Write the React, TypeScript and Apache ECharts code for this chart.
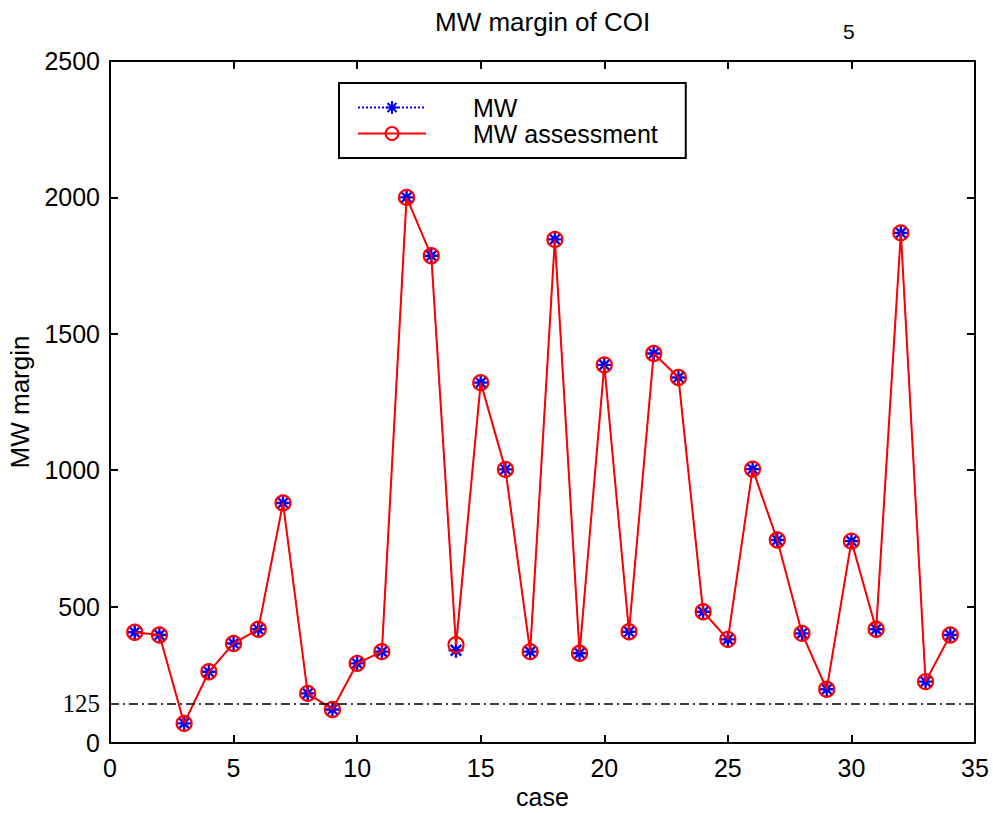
import React, { useEffect, useRef } from "react";
import * as echarts from "echarts";

const cases = [1, 2, 3, 4, 5, 6, 7, 8, 9, 10, 11, 12, 13, 14, 15, 16, 17, 18, 19, 20, 21, 22, 23, 24, 25, 26, 27, 28, 29, 30, 31, 32, 33, 34];
const mwValues = [406, 396, 72, 261, 365, 417, 880, 182, 123, 292, 335, 2000, 1786, 340, 1321, 1003, 335, 1846, 329, 1386, 408, 1428, 1340, 481, 380, 1004, 744, 402, 197, 740, 417, 1870, 225, 396];
const assessmentValues = [406, 396, 72, 261, 365, 417, 880, 182, 123, 292, 335, 2000, 1786, 360, 1321, 1003, 335, 1846, 329, 1386, 408, 1428, 1340, 481, 380, 1004, 744, 402, 197, 740, 417, 1870, 225, 396];
// the dash-dot threshold line as drawn in the picture, and the label written beside it
const thresholdLineValue = 143;
const thresholdLabel = "125";
const xTicks = { min: 0, max: 35, interval: 5 };
const yTicks = { min: 0, max: 2500, interval: 500 };

const STAR = "path://M0,-10L0,10M-10,0L10,0M-7.07,-7.07L7.07,7.07M-7.07,7.07L7.07,-7.07";
const SANS = "Liberation Sans, Arial, sans-serif";

export default function App() {
  const ref = useRef<HTMLDivElement>(null);
  useEffect(() => {
    if (!ref.current) return;
    const chart = echarts.init(ref.current, undefined, { renderer: "svg" });
    const axisCommon = {
      type: "value" as const,
      axisLine: { show: true, onZero: false, lineStyle: { color: "#000", width: 2 } },
      axisTick: { show: true, inside: true, length: 8, lineStyle: { color: "#000", width: 2 } },
      splitLine: { show: false },
    };
    chart.setOption({
      animation: false,
      backgroundColor: "#fff",
      title: {
        text: "MW margin of COI",
        left: 430,
        top: 4,
        textStyle: { fontFamily: SANS, fontSize: 26, fontWeight: "normal", color: "#000" },
      },
      graphic: [
        {
          type: "text",
          left: 843,
          top: 21,
          style: { text: "5", fontFamily: SANS, fontSize: 21, fill: "#000" },
        },
      ],
      legend: {
        orient: "vertical",
        left: 339,
        top: 83,
        padding: [12, 28, 12, 18],
        itemGap: 1,
        itemWidth: 68,
        itemHeight: 16,
        backgroundColor: "#fff",
        borderColor: "#000",
        borderWidth: 2,
        borderRadius: 0,
        textStyle: { fontFamily: SANS, fontSize: 25, color: "#000", lineHeight: 25, padding: [0, 0, 0, 42] },
        data: ["MW", "MW assessment"],
      },
      grid: { left: 110, top: 61, width: 865, height: 682, show: false, containLabel: false, outerBoundsMode: "none" },
      xAxis: [
        {
          ...axisCommon,
          min: xTicks.min,
          max: xTicks.max,
          interval: xTicks.interval,
          position: "bottom",
          name: "case",
          nameLocation: "middle",
          nameGap: 41,
          nameTextStyle: { fontFamily: SANS, fontSize: 25, color: "#000" },
          axisLabel: { fontFamily: SANS, fontSize: 25, color: "#000", margin: 12, formatter: (v: number) => String(v) },
        },
        {
          ...axisCommon,
          min: xTicks.min,
          max: xTicks.max,
          interval: xTicks.interval,
          position: "top",
          axisLabel: { show: false },
        },
      ],
      yAxis: [
        {
          ...axisCommon,
          min: yTicks.min,
          max: yTicks.max,
          interval: yTicks.interval,
          position: "left",
          name: "MW margin",
          nameLocation: "middle",
          nameGap: 72,
          nameTextStyle: { fontFamily: SANS, fontSize: 26, color: "#000" },
          axisLabel: { fontFamily: SANS, fontSize: 25, color: "#000", margin: 10, formatter: (v: number) => String(v) },
        },
        {
          ...axisCommon,
          min: yTicks.min,
          max: yTicks.max,
          interval: yTicks.interval,
          position: "right",
          axisLabel: { show: false },
        },
      ],
      series: [
        {
          name: "MW",
          type: "line",
          data: cases.map((c, i) => [c, mwValues[i]]),
          symbol: STAR,
          symbolSize: 15,
          lineStyle: { color: "#0000ff", width: 1.2, type: "dotted" },
          itemStyle: { color: "#0000ff", borderColor: "#0000ff", borderWidth: 2.4 },
          z: 2,
        },
        {
          name: "MW assessment",
          type: "line",
          data: cases.map((c, i) => [c, assessmentValues[i]]),
          symbol: "circle",
          symbolSize: 15,
          lineStyle: { color: "#ff0000", width: 2 },
          itemStyle: { color: "transparent", borderColor: "#ff0000", borderWidth: 2.2 },
          z: 3,
          markLine: {
            silent: true,
            symbol: "none",
            data: [{ yAxis: thresholdLineValue }],
            lineStyle: { color: "#000", width: 1.6, type: [9, 4, 2, 4] },
            label: {
              show: true,
              position: "start",
              formatter: thresholdLabel,
              fontFamily: "Liberation Serif, Times New Roman, serif",
              fontSize: 25,
              color: "#000",
              distance: 10,
            },
          },
        },
      ],
    });
    return () => chart.dispose();
  }, []);
  return <div ref={ref} style={{ position: "fixed", left: 0, top: 0, width: 993, height: 813 }} />;
}
